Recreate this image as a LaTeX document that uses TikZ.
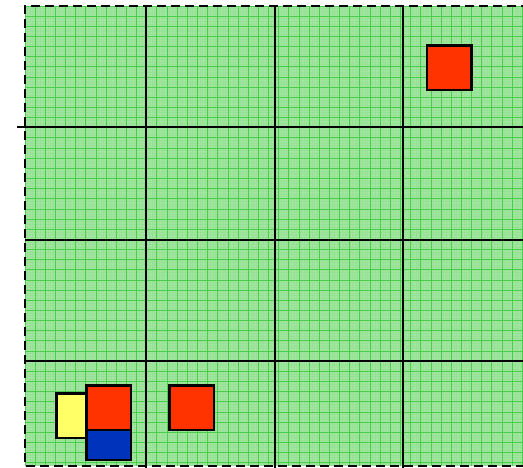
\documentclass[tikz,border=0pt]{standalone}
\usetikzlibrary{calc}
\definecolor{bgfill}{HTML}{A2E6A2}
\definecolor{finegrid}{HTML}{98E298}
\definecolor{minorgrid}{HTML}{48CE48}
\definecolor{redsq}{HTML}{FF3300}
\definecolor{yellowsq}{HTML}{FFFF66}
\definecolor{bluesq}{HTML}{0033BB}
\tikzset{
  majorline/.style={line width=2.2pt, black},
  sqbox/.style={draw=black, line width=2.6pt, inner sep=0pt, outer sep=0pt, anchor=north west},
  borderline/.style={line width=2.2pt, black, dash pattern=on 9pt off 5pt},
}
\begin{document}
\begin{tikzpicture}[x=1pt,y=-1pt]
\useasboundingbox (0,0) rectangle (523,467);
\begin{scope}
\clip (0,0) rectangle (523,467);
\fill[bgfill] (25,6) rectangle (530,466);
\draw[finegrid, line width=0.4pt, xstep=2.5375pt, ystep=2.5375pt, shift={(25,6)}] (0,0) grid (505,460);
\draw[minorgrid, line width=1pt, xstep=10.15pt, ystep=10.15pt, shift={(25,6)}] (0,0) grid (505,460);
% major lines
\coordinate (h1a) at (17,127); \coordinate (h1b) at (530,127);
\coordinate (h2a) at (25,240); \coordinate (h2b) at (530,240);
\coordinate (h3a) at (25,361); \coordinate (h3b) at (530,361);
\coordinate (v1a) at (146,6); \coordinate (v1b) at (146,470);
\coordinate (v2a) at (275,6); \coordinate (v2b) at (275,470);
\coordinate (v3a) at (403,6); \coordinate (v3b) at (403,470);
\draw[majorline] (h1a) -- (h1b);
\draw[majorline] (h2a) -- (h2b);
\draw[majorline] (h3a) -- (h3b);
\draw[majorline] (v1a) -- (v1b);
\draw[majorline] (v2a) -- (v2b);
\draw[majorline] (v3a) -- (v3b);
% border
\coordinate (bTR) at (530,6);
\coordinate (bTL) at (25,6);
\coordinate (bBL) at (25,466);
\coordinate (bBR) at (530,466);
\draw[borderline] (bTR) -- (bTL) -- (bBL) -- (bBR);
\end{scope}
% squares
\node[sqbox, fill=redsq, minimum width=44.5pt, minimum height=44.5pt] (r1) at (426.8,45.3) {};
\node[sqbox, fill=yellowsq, minimum width=31pt, minimum height=44.5pt] (y1) at (56.3,393.3) {};
\node[sqbox, fill=redsq, minimum width=44.5pt, minimum height=44.5pt] (r2) at (86.6,385.6) {};
\node[sqbox, fill=bluesq, minimum width=44.5pt, minimum height=30pt] (b1) at (86.6,430.1) {};
\node[sqbox, fill=redsq, minimum width=44.5pt, minimum height=44.5pt] (r3) at (169.6,385.6) {};
\end{tikzpicture}
\end{document}
